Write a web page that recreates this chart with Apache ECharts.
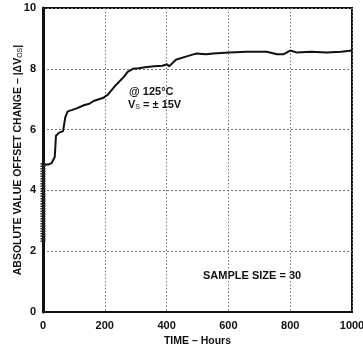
<!DOCTYPE html>
<html><head><meta charset="utf-8">
<script src="https://cdn.jsdelivr.net/npm/echarts@6/dist/echarts.min.js"></script>
<style>html,body{margin:0;padding:0;background:#fff}#c{width:363px;height:350px}</style>
</head><body><div id="c"></div>
<script>
const xTicks = [0, 200, 400, 600, 800, 1000];
const yTicks = [0, 2, 4, 6, 8, 10];
const hours = [0,6,17,28,34,38,42,52,65,72,80,95,109,132,150,166,196,210,230,263,274,291,310,330,360,386,402,408,430,462,495,528,550,604,659,724,757,779,800,820,868,917,965,1000];
const offset = [4.85,4.9,4.85,4.9,4.95,5.1,5.8,5.9,5.95,6.4,6.6,6.65,6.7,6.8,6.85,6.95,7.05,7.15,7.4,7.75,7.9,8.0,8.02,8.05,8.08,8.1,8.15,8.08,8.3,8.4,8.5,8.48,8.5,8.54,8.56,8.56,8.48,8.48,8.6,8.54,8.56,8.54,8.56,8.6];
const initHours = [0, 0];
const initOffset = [2.3, 4.9];

const F = 'Liberation Sans, Arial, sans-serif';
const chart = echarts.init(document.getElementById('c'), null, {renderer: 'canvas'});
chart.setOption({
  backgroundColor: '#fff',
  animation: false,
  grid: {left: 43, right: 11, top: 8, bottom: 38, containLabel: false, outerBoundsMode: 'none',
    show: true, borderColor: '#111', borderWidth: 2, backgroundColor: 'transparent'},
  xAxis: {
    type: 'value', min: xTicks[0], max: xTicks[xTicks.length-1], interval: 200,
    name: 'TIME – Hours', nameLocation: 'middle', nameGap: 21,
    nameTextStyle: {fontFamily: F, fontWeight: 'bold', fontSize: 10.5, color: '#111'},
    axisLine: {lineStyle: {color: '#111', width: 2}},
    axisTick: {show: false},
    axisLabel: {fontFamily: F, fontWeight: 'bold', fontSize: 11, color: '#111', margin: 8,
      formatter: v => String(v), hideOverlap: false},
    splitLine: {show: true, lineStyle: {color: '#777', width: 1, type: [1.5, 2]}}
  },
  yAxis: {
    type: 'value', min: yTicks[0], max: yTicks[yTicks.length-1], interval: 2,
    name: 'ABSOLUTE VALUE OFFSET CHANGE – |ΔV{s|OS}|', nameLocation: 'middle', nameGap: 19,
    nameMoveOverlap: false,
    nameTextStyle: {fontFamily: F, fontWeight: 'bold', fontSize: 10.5, color: '#111',
      rich: {s: {fontFamily: F, fontSize: 7, fontWeight: 'normal', color: '#111', verticalAlign: 'bottom', padding: [4,0,0,0]}}},
    axisLine: {show: true, lineStyle: {color: '#111', width: 3}},
    axisTick: {show: false},
    axisLabel: {fontFamily: F, fontWeight: 'bold', fontSize: 11, color: '#111', margin: 7, formatter: v => String(v)},
    splitLine: {show: true, lineStyle: {color: '#777', width: 1, type: [2, 2]}}
  },
  series: [
    {type: 'line', data: hours.map((h, i) => [h, offset[i]]), showSymbol: false, smooth: false,
     lineStyle: {color: '#111', width: 2}, z: 5},
    {type: 'line', data: initHours.map((h, i) => [h, initOffset[i]]), showSymbol: false,
     lineStyle: {color: '#222', width: 5, type: [1.5, 1]}, z: 6}
  ],
  graphic: [
    {type: 'text', left: 129, top: 86, style: {text: '@ 125°C', font: 'bold 11px ' + F, fill: '#111'}},
    {type: 'text', left: 128, top: 99, style: {text: '{a|V}{s|S}{a| = ± 15V}', fill: '#111',
      rich: {a: {font: 'bold 11px ' + F, fill: '#111'}, s: {font: '7px ' + F, fill: '#111', verticalAlign: 'bottom', padding: [5,0,0,0]}}}},
    {type: 'text', left: 203, top: 270, style: {text: 'SAMPLE SIZE = 30', font: 'bold 11px ' + F, fill: '#111'}}
  ]
});
</script></body></html>
